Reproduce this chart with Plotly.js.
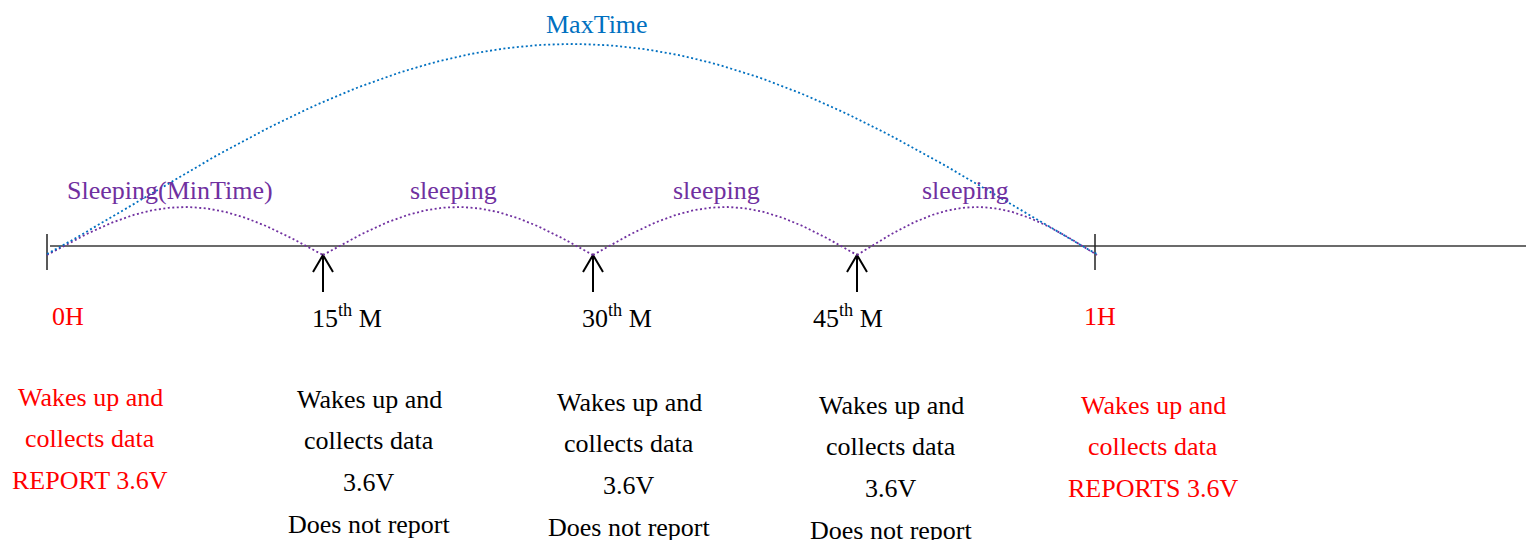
<!DOCTYPE html>
<html>
<head>
<meta charset="utf-8">
<script src="https://cdn.plot.ly/plotly-3.0.1.min.js"></script>
<style>html,body{margin:0;padding:0;background:#fff;}#chart{width:1526px;height:540px;}</style>
</head>
<body>
<div id="chart"></div>
<script>
// ---- content (text data) ----
const eventLabels = ['0H', '15<sup>th</sup> M', '30<sup>th</sup> M', '45<sup>th</sup> M', '1H'];
const eventNotes = [
  ['Wakes up and', 'collects data', 'REPORT 3.6V'],
  ['Wakes up and', 'collects data', '3.6V', 'Does not report'],
  ['Wakes up and', 'collects data', '3.6V', 'Does not report'],
  ['Wakes up and', 'collects data', '3.6V', 'Does not report'],
  ['Wakes up and', 'collects data', 'REPORTS 3.6V']
];
const reportFlags = [true, false, false, false, true];
const sleepLabels = ['Sleeping(MinTime)', 'sleeping', 'sleeping', 'sleeping'];
const maxLabel = 'MaxTime';

// ---- layout geometry (pixel space of the diagram) ----
const geo = {
  eventX: [47, 323, 593, 857, 1095],
  labelX: [68, 347, 617, 848, 1100],
  labelY: 316,
  noteX: [90, 369, 629, 891, 1153],
  noteY0: [397, 399, 402, 405, 405],
  noteStep: 41.7,
  lineY: 246,
  arcBaseY: 255,
  sleepPeakY: 207,
  sleepLabelX: [170, 453, 716, 965],
  sleepLabelY: 190,
  maxPeakY: 44,
  maxLabelX: 597,
  maxLabelY: 24
};
const FONT = 'Liberation Serif, Times New Roman, serif';
const RED = '#ff0000', PURPLE = '#7030a0', BLUE = '#0070c0';
const DOT = '2px,2.5px';

const traces = [];
// main timeline
traces.push({x: [geo.eventX[0] + 3, 1526], y: [geo.lineY, geo.lineY], mode: 'lines',
  line: {color: '#3a3a3a', width: 1.5}, hoverinfo: 'skip'});
// end ticks
[0, 4].forEach(i => {
  traces.push({x: [geo.eventX[i], geo.eventX[i]], y: [geo.lineY - 12, geo.lineY + 24], mode: 'lines',
    line: {color: '#222', width: 1.5}, hoverinfo: 'skip'});
});
// arrows at intermediate events
[1, 2, 3].forEach(i => {
  const x = geo.eventX[i], tip = geo.arcBaseY;
  traces.push({x: [x, x, null, x - 10, x, x + 10], y: [tip + 37, tip, null, tip + 17, tip, tip + 17],
    mode: 'lines', line: {color: '#000', width: 2}, hoverinfo: 'skip'});
});
function arc(x0, x1, y0, peak, p) {
  const xs = [], ys = [];
  const n = 120;
  for (let k = 0; k <= n; k++) {
    const t = k / n;
    xs.push(x0 + (x1 - x0) * t);
    ys.push(y0 - (y0 - peak) * Math.pow(Math.sin(Math.PI * t), p));
  }
  return {xs, ys};
}
// sleeping arcs
for (let i = 0; i < 4; i++) {
  const a = arc(geo.eventX[i], geo.eventX[i + 1] + (i === 3 ? 2 : 0), geo.arcBaseY, geo.sleepPeakY, 1);
  traces.push({x: a.xs, y: a.ys, mode: 'lines', line: {color: PURPLE, width: 1.8, dash: DOT}, hoverinfo: 'skip'});
}
// max arc
{
  const a = arc(geo.eventX[0], geo.eventX[4] + 2, geo.arcBaseY - 1, geo.maxPeakY, 1.05);
  traces.push({x: a.xs, y: a.ys, mode: 'lines', line: {color: BLUE, width: 1.8, dash: DOT}, hoverinfo: 'skip'});
}

const annotations = [];
function txt(x, y, text, color) {
  annotations.push({x, y, xref: 'x', yref: 'y', text, showarrow: false, xanchor: 'center', yanchor: 'middle',
    font: {family: FONT, size: 26, color}});
}
txt(geo.maxLabelX, geo.maxLabelY, maxLabel, BLUE);
sleepLabels.forEach((s, i) => txt(geo.sleepLabelX[i], geo.sleepLabelY, s, PURPLE));
eventLabels.forEach((s, i) => txt(geo.labelX[i], geo.labelY, s, reportFlags[i] ? RED : '#000'));
eventNotes.forEach((lines, i) => {
  lines.forEach((s, j) => txt(geo.noteX[i], geo.noteY0[i] + j * geo.noteStep, s, reportFlags[i] ? RED : '#000'));
});

const layout = {
  width: 1526, height: 540,
  margin: {l: 0, r: 0, t: 0, b: 0},
  paper_bgcolor: '#fff', plot_bgcolor: '#fff',
  showlegend: false,
  font: {family: FONT},
  xaxis: {range: [0, 1526], visible: false, fixedrange: true},
  yaxis: {range: [540, 0], visible: false, fixedrange: true},
  annotations
};
Plotly.newPlot('chart', traces, layout, {staticPlot: true, displayModeBar: false});
</script>
</body>
</html>
